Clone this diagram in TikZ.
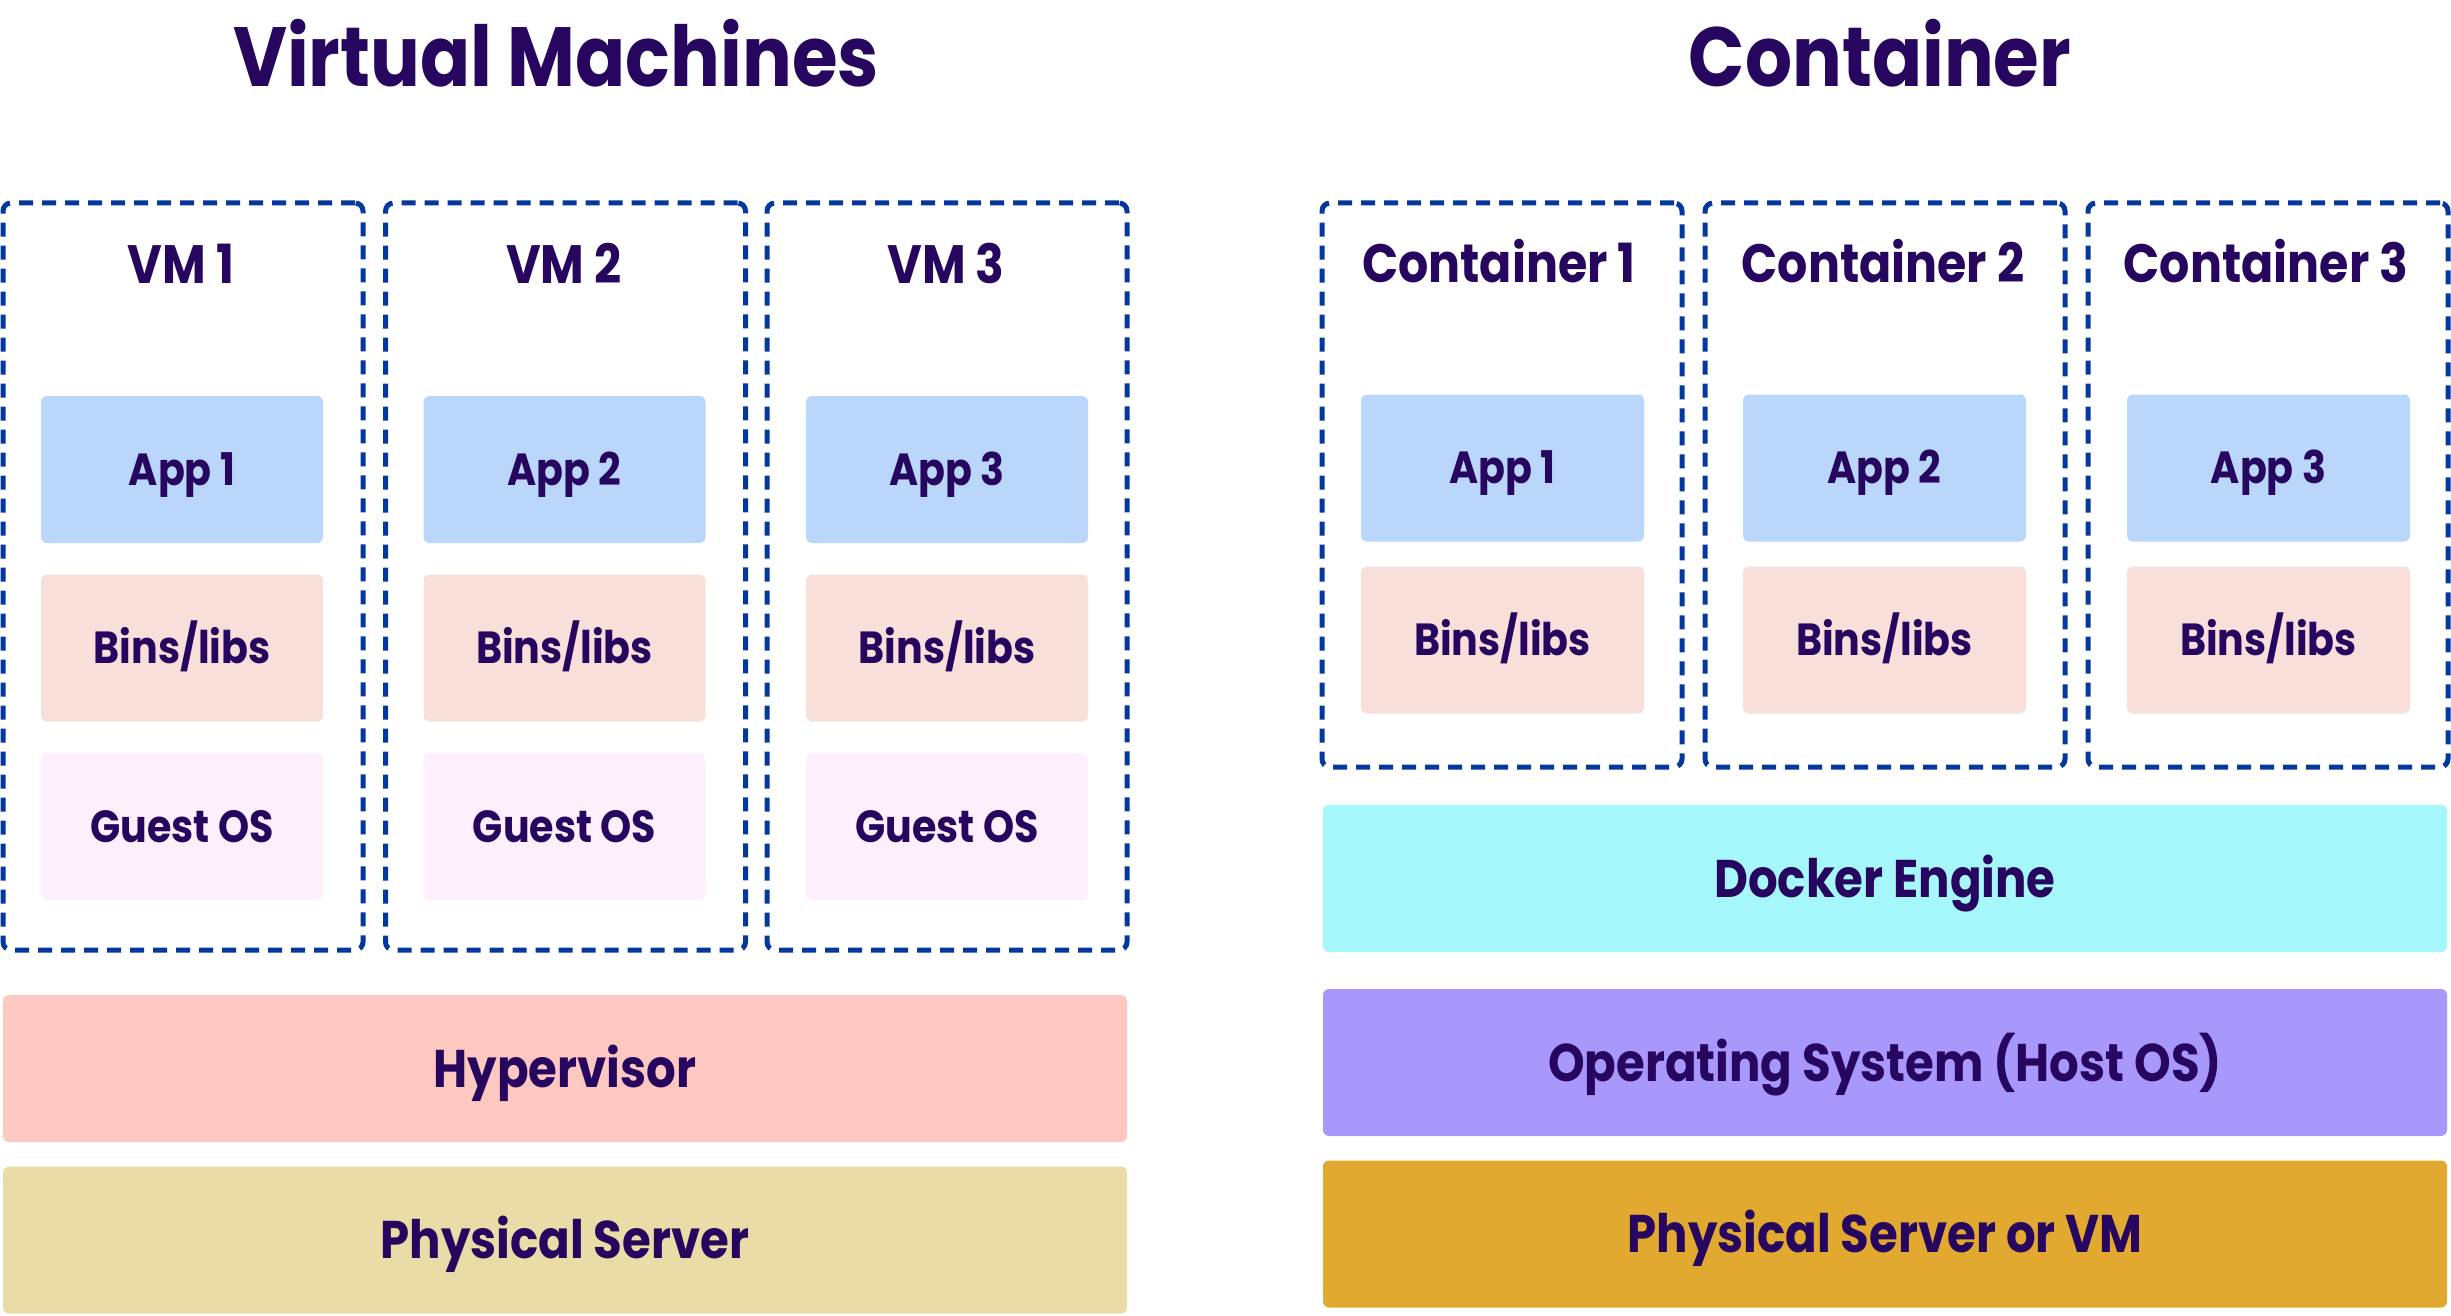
\documentclass[tikz,border=0pt]{standalone}
\usepackage{fontspec}
\setmainfont{Poppins}[FakeStretch=0.88]
\usepackage{tikz}

\definecolor{ink}{RGB}{38,6,94}
\definecolor{dashblue}{RGB}{4,56,158}
\definecolor{appblue}{RGB}{186,214,251}
\definecolor{binspink}{RGB}{249,223,218}
\definecolor{guestpink}{RGB}{253,239,252}
\definecolor{hyperpink}{RGB}{253,200,192}
\definecolor{srvbeige}{RGB}{233,220,166}
\definecolor{dockcyan}{RGB}{166,247,252}
\definecolor{osviolet}{RGB}{168,152,251}
\definecolor{hwgold}{RGB}{226,169,48}

\begin{document}
\begin{tikzpicture}[x=1pt,y=-1pt,
  head/.style={text=ink,font=\fontsize{84}{84}\selectfont\bfseries,text height=69pt,text depth=10pt},
  boxname/.style={text=ink,font=\fontsize{54}{54}\selectfont\bfseries,text height=46pt,text depth=8pt},
  frame/.style={draw=dashblue,line width=5pt,dash pattern=on 14pt off 9pt,rounded corners=8pt,minimum width=360pt},
  part/.style={rectangle,rounded corners=6pt,text=ink,font=\fontsize{45}{45}\selectfont\bfseries,text height=39.5pt,text depth=8pt,minimum width=282pt,minimum height=147pt},
  layer/.style={rectangle,rounded corners=6pt,text=ink,font=\fontsize{53}{53}\selectfont\bfseries,text height=45pt,text depth=8pt,minimum width=1124pt,minimum height=147pt}]
\useasboundingbox (0,0) rectangle (2451,1316);

% virtual machines
\node [head] (vmt) at(556,57){Virtual Machines};
\node [frame,minimum height=747pt] (v1) at(183,576.5){};
\node [frame,minimum height=747pt] (v2) at(565.5,576.5){};
\node [frame,minimum height=747pt] (v3) at(947,576.5){};
\node [boxname] (v1t) at(181,264){VM 1};
\node [boxname] (v2t) at(564,264){VM 2};
\node [boxname] (v3t) at(946,264){VM 3};
\node [part,fill=appblue] (a1) at(182,469.5){App 1};
\node [part,fill=appblue] (a2) at(564.5,469.5){App 2};
\node [part,fill=appblue] (a3) at(947,469.5){App 3};
\node [part,fill=binspink] (b1) at(182,648){Bins/libs};
\node [part,fill=binspink] (b2) at(564.5,648){Bins/libs};
\node [part,fill=binspink] (b3) at(947,648){Bins/libs};
\node [part,fill=guestpink] (g1) at(182,826.5){Guest OS};
\node [part,fill=guestpink] (g2) at(564.5,826.5){Guest OS};
\node [part,fill=guestpink] (g3) at(947,826.5){Guest OS};
\node [layer,fill=hyperpink] (hyp) at(565,1068.5){Hypervisor};
\node [layer,fill=srvbeige] (srv) at(565,1240){Physical Server};

% containers
\node [head] (ct) at(1880,57){Container};
\node [frame,minimum height=564pt] (c1) at(1502,485){};
\node [frame,minimum height=564pt] (c2) at(1885,485){};
\node [frame,minimum height=564pt] (c3) at(2268,485){};
\node [boxname] (c1t) at(1499,263){Container 1};
\node [boxname] (c2t) at(1883,263){Container 2};
\node [boxname] (c3t) at(2266,263){Container 3};
\node [part,fill=appblue,minimum width=283pt] (ca1) at(1502.5,468){App 1};
\node [part,fill=appblue,minimum width=283pt] (ca2) at(1884.5,468){App 2};
\node [part,fill=appblue,minimum width=283pt] (ca3) at(2268.5,468){App 3};
\node [part,fill=binspink,minimum width=283pt] (cb1) at(1502.5,640){Bins/libs};
\node [part,fill=binspink,minimum width=283pt] (cb2) at(1884.5,640){Bins/libs};
\node [part,fill=binspink,minimum width=283pt] (cb3) at(2268.5,640){Bins/libs};
\node [layer,fill=dockcyan] (dk) at(1885,878.5){Docker Engine};
\node [layer,fill=osviolet] (os) at(1885,1062.5){Operating System (Host OS)};
\node [layer,fill=hwgold] (hw) at(1885,1234){Physical Server or VM};
\end{tikzpicture}
\end{document}
